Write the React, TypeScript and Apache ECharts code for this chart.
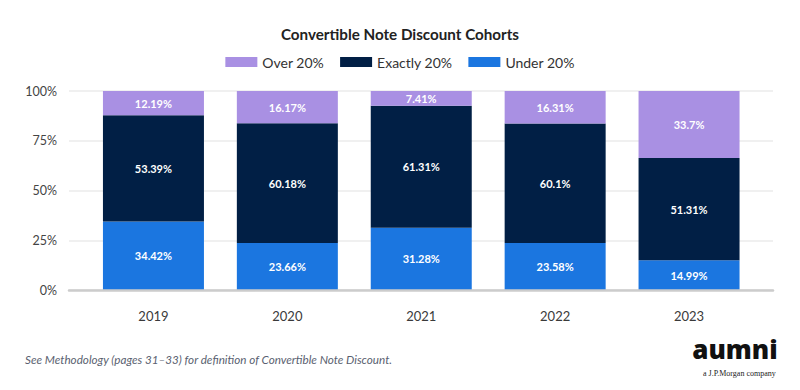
import React, { useEffect, useRef } from "react";
import * as echarts from "echarts";

const years = ["2019", "2020", "2021", "2022", "2023"];
const over20 = [12.19, 16.17, 7.41, 16.31, 33.7];
const exactly20 = [53.39, 60.18, 61.31, 60.1, 51.31];
const under20 = [34.42, 23.66, 31.28, 23.58, 14.99];
const yTicks = [0, 25, 50, 75, 100];

const FONT = "Lato, 'Open Sans', sans-serif";

export default function App() {
  const ref = useRef<HTMLDivElement>(null);
  useEffect(() => {
    document.body.style.margin = "0";
    if (!ref.current) return;
    const chart = echarts.init(ref.current, undefined, { renderer: "svg" });
    const label = {
      show: true,
      position: "inside",
      color: "#ffffff",
      fontFamily: FONT,
      fontSize: 11,
      fontWeight: "bold",
      formatter: (p: any) => `${p.value}%`,
    };
    chart.setOption({
      animation: false,
      textStyle: { fontFamily: FONT },
      title: {
        text: "Convertible Note Discount Cohorts",
        left: "center",
        top: 21,
        textStyle: { fontFamily: FONT, fontSize: 15.2, fontWeight: "bold", color: "#222" },
      },
      legend: {
        top: 50,
        left: "center",
        itemWidth: 32,
        itemHeight: 10,
        itemGap: 16,
        icon: "rect",
        data: ["Over 20%", "Exactly 20%", "Under 20%"],
        textStyle: { fontFamily: FONT, fontSize: 14, color: "#333" },
      },
      grid: [
        { left: 69, right: 27, top: 91, bottom: 100 },
        { left: 86.5, right: 44, top: 91, bottom: 100 },
      ],
      xAxis: [
        {
          type: "category",
          gridIndex: 0,
          data: years,
          axisLine: { show: true, lineStyle: { color: "#cccccc", width: 2.5 } },
          axisTick: { show: false },
          axisLabel: { show: false },
          splitLine: { show: false },
          z: 3,
        },
        {
          type: "category",
          gridIndex: 1,
          data: years,
          axisLine: { show: false },
          axisTick: { show: false },
          axisLabel: { margin: 19, fontFamily: FONT, fontSize: 13, color: "#3a3a3a" },
        },
      ],
      yAxis: [
        {
          type: "value",
          gridIndex: 0,
          min: yTicks[0],
          max: yTicks[yTicks.length - 1],
          interval: 25,
          axisLine: { show: false },
          axisTick: { show: false },
          axisLabel: { margin: 12, formatter: "{value}%", fontFamily: FONT, fontSize: 12.5, color: "#444" },
          splitLine: { lineStyle: { color: "#ebebeb", width: 1.5 } },
        },
        {
          type: "value",
          gridIndex: 1,
          min: 0,
          max: 100,
          show: false,
        },
      ],
      series: [
        {
          name: "Under 20%",
          type: "bar",
          stack: "total",
          xAxisIndex: 1,
          yAxisIndex: 1,
          barWidth: 101,
          data: under20,
          itemStyle: { color: "#1B76E0" },
          label,
        },
        {
          name: "Exactly 20%",
          type: "bar",
          stack: "total",
          xAxisIndex: 1,
          yAxisIndex: 1,
          barWidth: 101,
          data: exactly20,
          itemStyle: { color: "#011F45" },
          label,
        },
        {
          name: "Over 20%",
          type: "bar",
          stack: "total",
          xAxisIndex: 1,
          yAxisIndex: 1,
          barWidth: 101,
          data: over20,
          itemStyle: { color: "#A990E3" },
          label,
        },
      ],
      graphic: [
        {
          type: "text",
          left: 25,
          top: 353,
          style: {
            text: "See Methodology (pages 31\u201333) for definition of Convertible Note Discount.",
            fontFamily: FONT,
            fontSize: 11.7,
            fontStyle: "italic",
            fill: "#5a5f70",
          },
        },
        {
          type: "text",
          x: 735,
          y: 349,
          style: {
            text: "aumni",
            align: "center",
            verticalAlign: "middle",
            fontFamily: "'Open Sans', Lato, sans-serif",
            fontSize: 26,
            fontWeight: 800,
            fill: "#111",
          },
        },
        {
          type: "text",
          left: 703,
          top: 369,
          style: {
            text: "a J.P.Morgan company",
            fontFamily: "'Liberation Serif', serif",
            fontSize: 8,
            fill: "#222",
          },
        },
      ],
    });
    return () => chart.dispose();
  }, []);
  return <div ref={ref} style={{ width: 800, height: 390 }} />;
}
